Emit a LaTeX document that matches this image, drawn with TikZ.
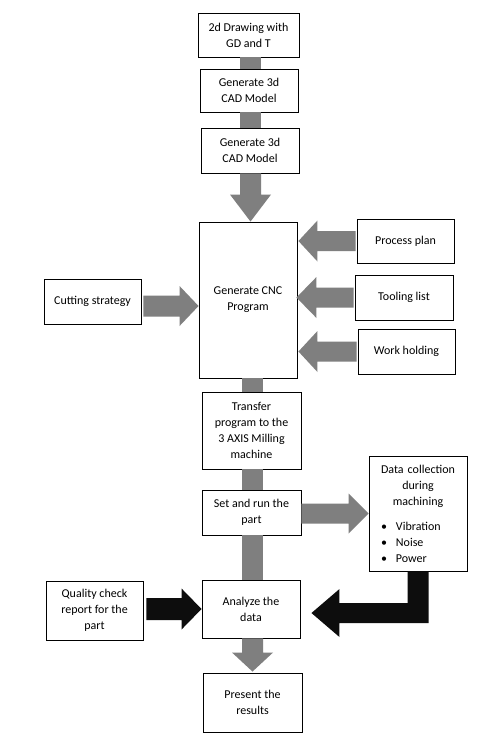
\documentclass[tikz,border=0pt]{standalone}
\usepackage{fontspec}
\setmainfont{Carlito}
\usetikzlibrary{calc}
\definecolor{arrgray}{HTML}{7F7F7F}
\definecolor{arrblack}{HTML}{0D0D0D}
% right-pointing block arrow: start, tip, shaft half, head half, head length, colour
\newcommand{\rblock}[6]{\fill[#6] ($(#1)+(0,-#3)$) -- ($(#2)+(-#5,-#3)$) -- ($(#2)+(-#5,-#4)$) -- (#2) -- ($(#2)+(-#5,#4)$) -- ($(#2)+(-#5,#3)$) -- ($(#1)+(0,#3)$) -- cycle;}
% left-pointing
\newcommand{\lblock}[6]{\fill[#6] ($(#1)+(0,-#3)$) -- ($(#2)+(#5,-#3)$) -- ($(#2)+(#5,-#4)$) -- (#2) -- ($(#2)+(#5,#4)$) -- ($(#2)+(#5,#3)$) -- ($(#1)+(0,#3)$) -- cycle;}
% down-pointing (y axis points down)
\newcommand{\dblock}[6]{\fill[#6] ($(#1)+(-#3,0)$) -- ($(#2)+(-#3,-#5)$) -- ($(#2)+(-#4,-#5)$) -- (#2) -- ($(#2)+(#4,-#5)$) -- ($(#2)+(#3,-#5)$) -- ($(#1)+(#3,0)$) -- cycle;}
\begin{document}
\begin{tikzpicture}[x=1pt,y=-1pt,
  box/.style={draw, line width=0.9pt, inner sep=2pt, align=center,
    font=\fontsize{12}{16}\selectfont},
  conn/.style={draw=arrgray, line width=21pt}]
\useasboundingbox (0,0) rectangle (480,736);
\fill[white] (0,0) rectangle (480,736);
% boxes
\node[box, minimum width=101pt, minimum height=44pt] (b1) at (248.5,35) {2d Drawing with\\GD and T};
\node[box, minimum width=98pt, minimum height=43pt] (b2) at (249,90.5) {Generate 3d\\CAD Model};
\node[box, minimum width=98pt, minimum height=45pt] (b3) at (250,150.5) {Generate 3d\\CAD Model};
\node[box, minimum width=98pt, minimum height=156pt] (cnc) at (248,300) {Generate CNC\\Program};
\node[box, minimum width=97pt, minimum height=44pt] (proc) at (405.5,241) {Process plan};
\node[box, minimum width=98pt, minimum height=45pt] (tool) at (404,297.5) {Tooling list};
\node[box, minimum width=97pt, minimum height=45pt] (work) at (406.5,351.5) {Work holding};
\node[box, minimum width=97pt, minimum height=45pt] (cut) at (92.5,301.5) {Cutting strategy};
\node[box, minimum width=99pt, minimum height=77pt] (trans) at (251.5,430.5) {Transfer\\program to the\\3 AXIS Milling\\machine};
\node[box, minimum width=99pt, minimum height=45pt] (set) at (251.5,512.5) {Set and run the\\part};
\node[draw, line width=0.9pt, inner sep=2pt, text width=94pt, minimum width=98pt, minimum height=115pt,
  font=\fontsize{12}{16}\selectfont] (data) at (418,513.5)
  {\setlength{\parindent}{0pt}{\centering Data collection\\during\\machining\par}\vspace{9pt}%
   \hspace*{10pt}\textbullet\hspace{9pt}Vibration\\
   \hspace*{10pt}\textbullet\hspace{9pt}Noise\\
   \hspace*{10pt}\textbullet\hspace{9pt}Power\par};
\node[box, minimum width=97pt, minimum height=59pt] (qual) at (94.5,610.5) {Quality check\\report for the\\part};
\node[box, minimum width=98pt, minimum height=58pt] (ana) at (251,609) {Analyze the\\data};
\node[box, minimum width=99pt, minimum height=59pt] (pres) at (252.5,702.5) {Present the\\results};
% columns
\coordinate (colA) at (250.5,0);
\coordinate (colB) at (252.5,0);
% plain connectors
\draw[conn] (b1.south -| colA) -- (b2.north -| colA);
\draw[conn] (b2.south -| colA) -- (b3.north -| colA);
\draw[conn] (cnc.south -| colB) -- (trans.north -| colB);
\draw[conn] (trans.south -| colB) -- (set.north -| colB);
\draw[conn] (set.south -| colB) -- (ana.north -| colB);
% down arrows
\coordinate (d1s) at (b3.south -| colA);
\coordinate (d1t) at (cnc.north -| colA);
\dblock{d1s}{d1t}{10.5}{20.5}{27}{arrgray}
\coordinate (d2s) at (ana.south -| colB);
\coordinate (d2t) at ($(pres.north -| colB)+(0,-1)$);
\dblock{d2s}{d2t}{10.5}{20.5}{19}{arrgray}
% cutting strategy -> CNC
\coordinate (t1) at ($(cnc.west)+(0,6)$);
\coordinate (s1) at ($(cut.east |- t1)+(2,0)$);
\rblock{s1}{t1}{10.5}{20}{19}{arrgray}
% inputs from the right
\coordinate (t2) at ($(cnc.east |- proc.west)+(1,0)$);
\coordinate (s2) at ($(proc.west)+(-1,0)$);
\lblock{s2}{t2}{10}{20.5}{19}{arrgray}
\coordinate (t3) at ($(cnc.east |- tool.west)+(-1,0)$);
\coordinate (s3) at ($(tool.west)+(-1,0)$);
\lblock{s3}{t3}{10}{20.5}{20}{arrgray}
\coordinate (t4) at ($(cnc.east |- work.west)+(1,0)$);
\coordinate (s4) at ($(work.west)+(-1,0)$);
\lblock{s4}{t4}{10}{20.5}{19}{arrgray}
% set -> data
\coordinate (t5) at (data.west);
\coordinate (s5) at (set.east |- t5);
\rblock{s5}{t5}{10}{20}{20}{arrgray}
% quality -> analyze
\coordinate (t6) at (ana.west);
\coordinate (s6) at ($(qual.east |- t6)+(3,0)$);
\rblock{s6}{t6}{11}{20.5}{20}{arrblack}
% data -> analyze (L-shaped)
\coordinate (lt) at ($(ana.east)+(11,4)$);
\coordinate (lA) at ($(data.south)+(10.5,0)$);
\coordinate (lC) at ($(data.south)+(-10.5,0)$);
\coordinate (lB) at ($(lt)+(0,10)$);
\coordinate (lD) at ($(lt)+(28,-10)$);
\fill[arrblack] (lC) -- (lA) -- (lA |- lB) -- ($(lt)+(28,10)$) -- ($(lt)+(28,24)$) -- (lt)
  -- ($(lt)+(28,-24)$) -- (lD) -- (lC |- lD) -- cycle;
\end{tikzpicture}
\end{document}
